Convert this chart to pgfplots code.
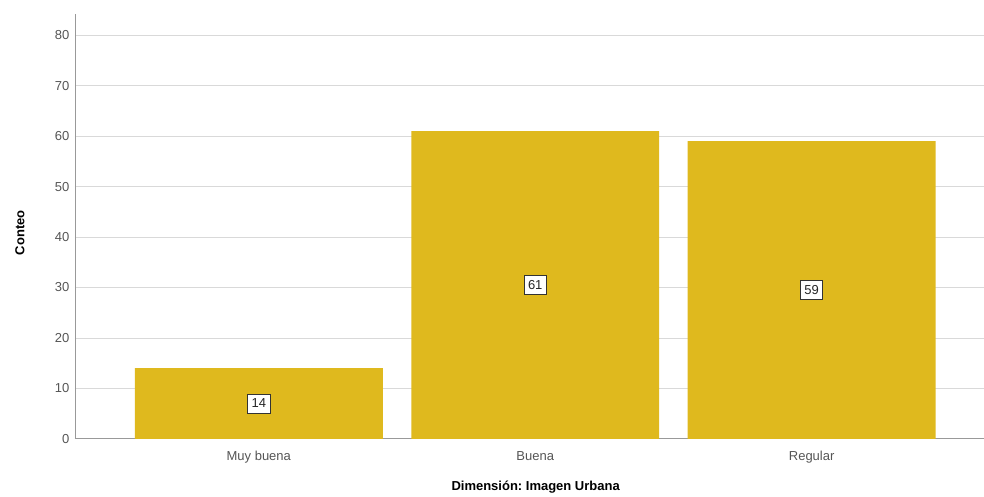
\documentclass[border=0pt]{standalone}
\usepackage{fontspec}
\setmainfont{Liberation Sans}
\usepackage{pgfplots}
\pgfplotsset{compat=1.18}
\definecolor{bargold}{RGB}{223,185,30}
\definecolor{tickgray}{RGB}{85,85,85}
\frenchspacing
\begin{document}
\begin{tikzpicture}
\begin{axis}[
  scale only axis,
  width=909pt, height=425pt,
  xmin=-0.665, xmax=2.622,
  ymin=0, ymax=84.2,
  ytick={0,10,...,80},
  xtick={0,1,2},
  xticklabels={Muy buena, Buena, Regular},
  axis x line*=bottom, axis y line*=left,
  axis line style={draw=gray!80, line width=0.8pt},
  x axis line style={-}, y axis line style={-},
  tick style={draw=none},
  ymajorgrids,
  grid style={draw=gray!30, line width=0.8pt},
  /pgf/number format/assume math mode=true,
  ticklabel style={font=\fontsize{13}{15}\selectfont, text=tickgray},
  yticklabel style={xshift=-2pt},
  xticklabel style={yshift=-4pt, text height=9.5pt, text depth=3pt},
  ylabel={Conteo},
  xlabel={\frenchspacing Dimensión: Imagen Urbana},
  every axis y label/.style={at={(axis description cs:0,0.485)}, xshift=-55pt, rotate=90, anchor=center, font=\bfseries\fontsize{13}{15}\selectfont},
  every axis x label/.style={at={(axis description cs:0.507,0)}, yshift=-48pt, anchor=center, font=\bfseries\fontsize{13}{15}\selectfont},
  ybar, bar width=248pt,
  clip=false,
]
\addplot[fill=bargold, draw=none,
  visualization depends on={y \as \rawy},
  nodes near coords,
  every node near coord/.append style={anchor=center, shift={(axis direction cs:0,{-0.5*\rawy})},
    draw=black!80, line width=0.9pt, fill=white, inner xsep=4pt, inner ysep=5pt, text=black!85, font=\fontsize{13}{15}\selectfont},
] coordinates {(0,14) (1,61) (2,59)};
\end{axis}
\path (-75pt,-56pt) rectangle (909pt,439pt);
\end{tikzpicture}
\end{document}
